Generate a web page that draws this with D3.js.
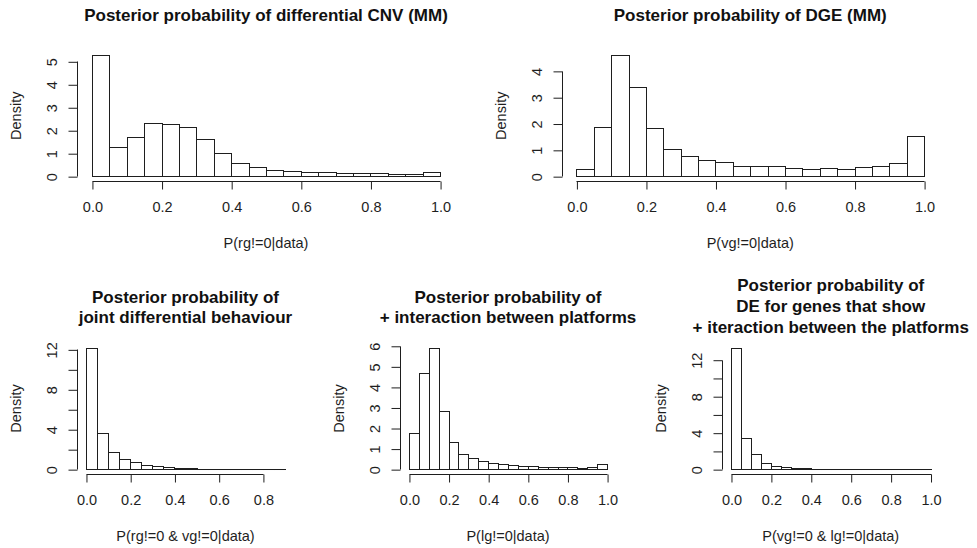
<!DOCTYPE html>
<html>
<head>
<meta charset="utf-8">
<script src="https://cdn.jsdelivr.net/npm/d3@7"></script>
<style>
  html, body { margin: 0; padding: 0; background: #fff; }
  svg { display: block; font-family: "Liberation Sans", Arial, Helvetica, sans-serif; }
</style>
</head>
<body>
<svg id="chart" width="977" height="548"></svg>
<script>
// Histogram bin edges (width 0.05)
const binEdges = [0, 0.05, 0.1, 0.15, 0.2, 0.25, 0.3, 0.35, 0.4, 0.45, 0.5,
                  0.55, 0.6, 0.65, 0.7, 0.75, 0.8, 0.85, 0.9, 0.95, 1.0];

// Densities per bin
const densityCNV = [5.26, 1.26, 1.71, 2.32, 2.29, 2.13, 1.62, 0.99, 0.59, 0.39,
                    0.29, 0.23, 0.20, 0.19, 0.13, 0.13, 0.12, 0.09, 0.09, 0.16];
const densityDGE = [0.27, 1.85, 4.59, 3.39, 1.84, 1.05, 0.76, 0.62, 0.52, 0.39,
                    0.37, 0.38, 0.32, 0.29, 0.31, 0.29, 0.33, 0.39, 0.51, 1.54];
const densityJoint = [12.15, 3.65, 1.68, 1.00, 0.67, 0.44, 0.27, 0.17, 0.10, 0.07,
                      0.03, 0.02, 0.015, 0.01, 0.01, 0.008, 0.005, 0.005];
const densityInteraction = [1.77, 4.68, 5.90, 2.83, 1.30, 0.76, 0.54, 0.42, 0.31, 0.24,
                            0.20, 0.15, 0.13, 0.11, 0.11, 0.10, 0.10, 0.08, 0.11, 0.26];
const densityDEInteraction = [13.30, 3.42, 1.69, 0.70, 0.37, 0.22, 0.15, 0.10, 0.06, 0.04,
                              0.03, 0.02, 0.02, 0.015, 0.01, 0.01, 0.01, 0.008, 0.008, 0.01];

// Titles and axis labels
const titles = [
  ["Posterior probability of differential CNV (MM)"],
  ["Posterior probability of DGE (MM)"],
  ["Posterior probability of", "joint differential behaviour"],
  ["Posterior probability of", "+ interaction between platforms"],
  ["Posterior probability of", "DE for genes that show", "+ iteraction between the platforms"]
];
const xLabels = ["P(rg!=0|data)", "P(vg!=0|data)", "P(rg!=0 & vg!=0|data)",
                 "P(lg!=0|data)", "P(vg!=0 & lg!=0|data)"];
const yLabel = "Density";

// Tick values
const xTicksFull = [0, 0.2, 0.4, 0.6, 0.8, 1.0];
const xTicksShort = [0, 0.2, 0.4, 0.6, 0.8];
const yTicksCNV = [0, 1, 2, 3, 4, 5];
const yTicksDGE = [0, 1, 2, 3, 4];
const yTicksJoint = [0, 2, 4, 6, 8, 10, 12];
const yTicksInteraction = [0, 1, 2, 3, 4, 5, 6];
const yTicksDE = [0, 2, 4, 6, 8, 10, 12];
const yLabelsSparse = [0, 4, 8, 12];

// Panel layout: plot region in pixels
const panels = [
  { dens: densityCNV, xmax: 1.0, xt: xTicksFull, yt: yTicksCNV, yl: yTicksCNV,
    box: { l: 78, r: 454, t: 50.5, b: 181 }, title: titles[0], titleBase: [20.7], xlab: xLabels[0] },
  { dens: densityDGE, xmax: 1.0, xt: xTicksFull, yt: yTicksDGE, yl: yTicksDGE,
    box: { l: 562.5, r: 938, t: 50.5, b: 181 }, title: titles[1], titleBase: [20.7], xlab: xLabels[1] },
  { dens: densityJoint, xmax: 0.9, xt: xTicksShort, yt: yTicksJoint, yl: yLabelsSparse,
    box: { l: 78, r: 293, t: 343, b: 474 }, title: titles[2], titleBase: [302.7, 323.3], xlab: xLabels[2] },
  { dens: densityInteraction, xmax: 1.0, xt: xTicksFull, yt: yTicksInteraction, yl: yTicksInteraction,
    box: { l: 401, r: 615, t: 343, b: 474 }, title: titles[3], titleBase: [302.7, 323.3], xlab: xLabels[3] },
  { dens: densityDEInteraction, xmax: 1.0, xt: xTicksFull, yt: yTicksDE, yl: yLabelsSparse,
    box: { l: 723, r: 938.5, t: 343, b: 474 }, title: titles[4], titleBase: [290.7, 311.7, 332.7], xlab: xLabels[4] }
];

const svg = d3.select("#chart");
svg.append("rect").attr("width", 977).attr("height", 548).attr("fill", "#fff");

const ink = "#1e1e1e";

panels.forEach(p => {
  const g = svg.append("g");
  const { l, r, t, b } = p.box;
  const ymax = d3.max(p.dens);

  // 4% padding on both ends of each axis range
  const xPad = 0.04 * p.xmax;
  const yPad = 0.04 * ymax;
  const x = d3.scaleLinear().domain([-xPad, p.xmax + xPad]).range([l, r]);
  const y = d3.scaleLinear().domain([-yPad, ymax + yPad]).range([b, t]);

  const bins = p.dens.map((d, i) => ({ x0: binEdges[i], x1: binEdges[i + 1], d }));
  const base = Math.round(y(0));

  // Histogram bars; near-empty bins collapse to a line on the baseline
  g.selectAll("rect.bar").data(bins).join("rect")
    .attr("class", "bar")
    .attr("x", d => Math.round(x(d.x0)) + 0.5)
    .attr("width", d => Math.round(x(d.x1)) - Math.round(x(d.x0)))
    .attr("y", d => Math.min(Math.round(y(d.d)), base) + 0.5)
    .attr("height", d => Math.max(0.01, base - Math.round(y(d.d))))
    .attr("fill", "#fff")
    .attr("stroke", ink)
    .attr("stroke-width", 1);

  // X axis
  const xAxis = g.append("g")
    .attr("transform", `translate(0.5,${Math.round(b) + 0.5})`)
    .call(d3.axisBottom(x).tickValues(p.xt).tickSize(8).tickPadding(8)
      .tickFormat(d3.format(".1f")));
  xAxis.select(".domain").remove();
  xAxis.append("line")
    .attr("x1", Math.round(x(p.xt[0]))).attr("x2", Math.round(x(p.xt[p.xt.length - 1])))
    .attr("stroke", ink);
  xAxis.selectAll(".tick line").attr("stroke", ink);
  xAxis.selectAll(".tick text")
    .attr("fill", ink).attr("font-size", 14.5)
    .attr("y", 30.5).attr("dy", 0);

  // Y axis with labels reading upward
  const yAxis = g.append("g")
    .attr("transform", `translate(${Math.round(l) - 0.5},0.5)`)
    .call(d3.axisLeft(y).tickValues(p.yt).tickSize(9)
      .tickFormat(d => p.yl.includes(d) ? d3.format("d")(d) : ""));
  yAxis.select(".domain").remove();
  yAxis.append("line")
    .attr("y1", Math.round(y(p.yt[0]))).attr("y2", Math.round(y(p.yt[p.yt.length - 1])))
    .attr("stroke", ink);
  yAxis.selectAll(".tick line").attr("stroke", ink);
  yAxis.selectAll(".tick text")
    .attr("fill", ink).attr("font-size", 14.5)
    .attr("text-anchor", "middle")
    .attr("x", 0).attr("y", -20.5).attr("dy", 0)
    .attr("transform", "rotate(-90)");

  // Axis titles
  g.append("text")
    .attr("x", (l + r) / 2).attr("y", b + 67)
    .attr("text-anchor", "middle").attr("font-size", 14.5).attr("fill", ink)
    .text(p.xlab);
  g.append("text")
    .attr("transform", `translate(${l - 57},${(t + b) / 2}) rotate(-90)`)
    .attr("text-anchor", "middle").attr("font-size", 14.5).attr("fill", ink)
    .text(yLabel);

  // Main title
  p.title.forEach((line, i) => {
    g.append("text")
      .attr("x", (l + r) / 2).attr("y", p.titleBase[i])
      .attr("text-anchor", "middle").attr("font-size", 17).attr("font-weight", "bold")
      .attr("fill", "#111")
      .text(line);
  });
});
</script>
</body>
</html>
